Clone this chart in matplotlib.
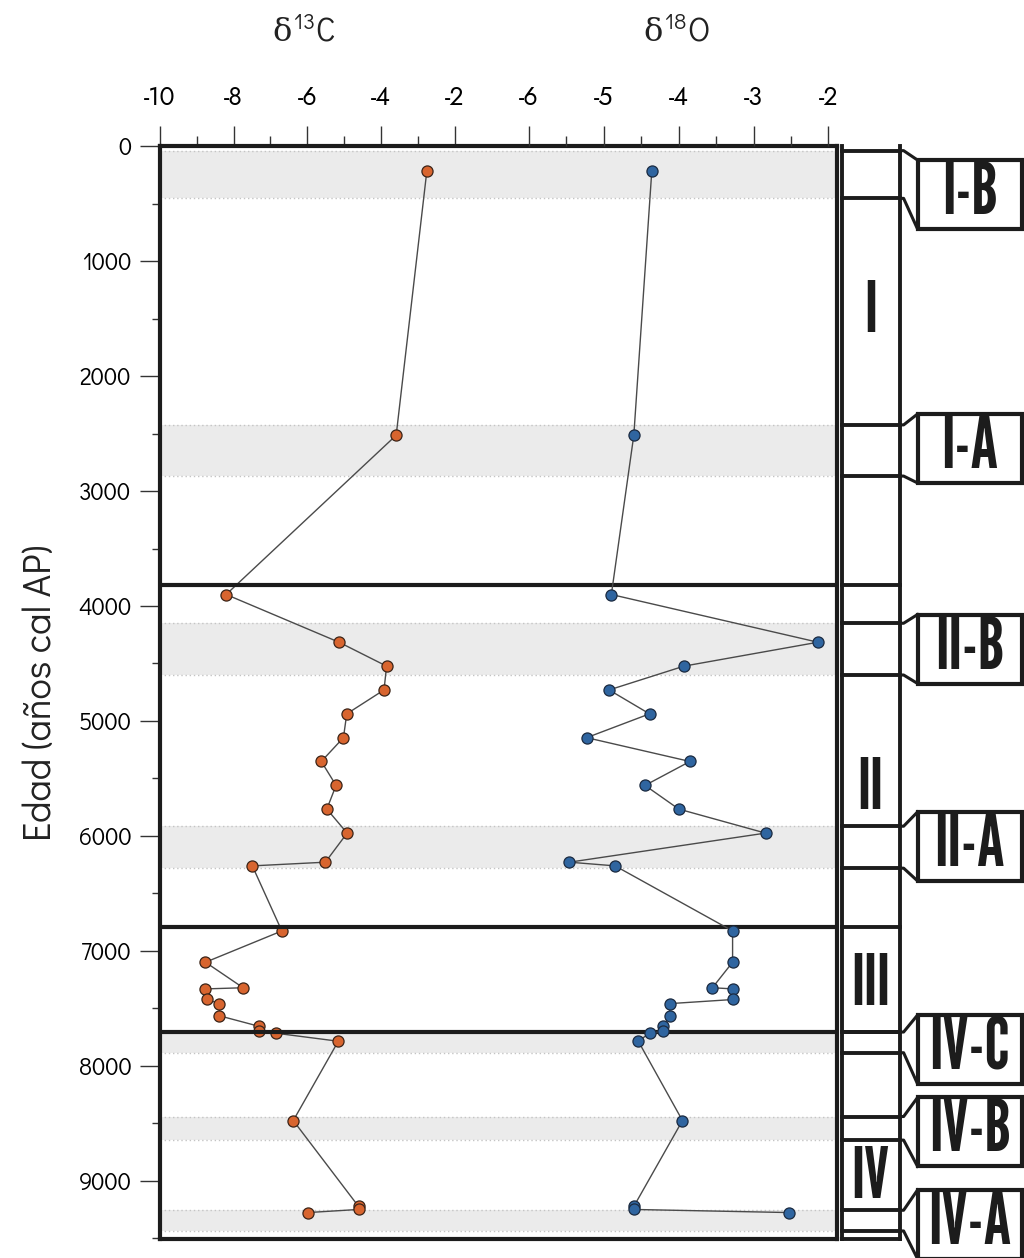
import matplotlib
matplotlib.use("Agg")
import matplotlib.pyplot as plt
import matplotlib.transforms as mtransforms
from matplotlib.patches import Rectangle
from matplotlib.ticker import MultipleLocator

plt.rcParams['axes.unicode_minus'] = False
plt.rcParams['font.family'] = ['Didact Gothic', 'Questrial', 'DejaVu Sans']
plt.rcParams['mathtext.fontset'] = 'custom'
plt.rcParams['mathtext.rm'] = 'Didact Gothic'
plt.rcParams['mathtext.it'] = 'DejaVu Serif'

FUTURA = ['Jost', 'DejaVu Sans']
GOTICA = ['Didact Gothic', 'Questrial', 'DejaVu Sans']
ESTRECHA = ['League Gothic', 'Oswald', 'Antonio', 'Barlow Condensed', 'DejaVu Sans']

# edades (años cal AP) y valores isotópicos
edad = [220, 2515, 3900, 4315, 4523, 4730, 4938, 5145, 5352, 5560, 5766, 5975, 6228, 6260,
        6826, 7098, 7320, 7330, 7422, 7458, 7564, 7656, 7700, 7715, 7785, 8475, 9222, 9248, 9275]
d13c = [-2.76, -3.59, -8.20, -5.14, -3.85, -3.92, -4.93, -5.02, -5.62, -5.22, -5.47, -4.92, -5.51, -7.49,
        -6.69, -8.76, -7.74, -8.76, -8.72, -8.38, -8.38, -7.30, -7.30, -6.86, -5.16, -6.38, -4.61, -4.61, -5.98]
d18o = [-4.36, -4.60, -4.90, -2.14, -3.93, -4.93, -4.39, -5.23, -3.85, -4.45, -4.00, -2.84, -5.46, -4.85,
        -3.28, -3.28, -3.55, -3.27, -3.27, -4.12, -4.12, -4.21, -4.21, -4.39, -4.54, -3.95, -4.60, -4.60, -2.53]

zonas = ["I", "II", "III", "IV"]
zona_lim = [0, 3820, 6790, 7705, 9505]
zona_etq = [1450, 5600, 7300, 8980]

subzonas = ["I-B", "I-A", "II-B", "II-A", "IV-C", "IV-B", "IV-A"]
sub_ini = [40, 2425, 4150, 5915, 7705, 8440, 9255]
sub_fin = [455, 2870, 4600, 6280, 7885, 8645, 9435]
caja_centro = [422, 2630, 4374, 6091, 7857, 8574, 9378]

NEGRO = '#1c1c1c'

fig = plt.figure(figsize=(10.24, 12.58), dpi=100)
ax = fig.add_axes([0.156, 0.0151, 0.661, 0.8688])

ax.set_ylim(zona_lim[-1], 0)
ax.set_xlim(-10, 8.35)

# franjas grises de subzonas
for a, b in zip(sub_ini, sub_fin):
    ax.axhspan(a, b, color='#ebebeb', lw=0, zorder=0)
    for y in (a, b):
        ax.axhline(y, color='#c4c4c4', lw=1.0, ls=(0, (1, 2)), zorder=0.5)

# límites de zonas
for z in zona_lim[1:-1]:
    ax.axhline(z, color=NEGRO, lw=3, zorder=5)

for s in ax.spines.values():
    s.set_linewidth(3)
    s.set_color(NEGRO)
    s.set_zorder(5)

ax.plot(d13c, edad, color='#4a4a4a', lw=1.0, zorder=3)
ax.plot(d13c, edad, 'o', ms=8, mfc='#d8652f', mec='#3b2418', mew=0.9, zorder=4)

ax2 = ax.twiny()
ax2.set_xlim(-10.935, -1.89)
ax2.set_xticks([-6, -5, -4, -3, -2])
ax2.set_xticks([-5.5, -4.5, -3.5, -2.5], minor=True)
for s in ax2.spines.values():
    s.set_visible(False)
ax2.plot(d18o, edad, color='#4a4a4a', lw=1.0, zorder=3)
ax2.plot(d18o, edad, 'o', ms=8, mfc='#2f65a0', mec='#1b2a40', mew=0.9, zorder=4)

# twiny pone las marcas de ax abajo: se vuelven a poner arriba
ax.xaxis.tick_top()
ax.set_xticks([-10, -8, -6, -4, -2])
ax.set_xticks([-9, -7, -5, -3], minor=True)
ax.yaxis.set_major_locator(MultipleLocator(1000))
ax.yaxis.set_minor_locator(MultipleLocator(500))
for a_ in (ax, ax2):
    a_.tick_params(axis='x', which='major', length=14.4, width=1.0, color='#333333',
                   labelsize=18, pad=11)
    a_.tick_params(axis='x', which='minor', length=7.2, width=1.0, color='#333333')
    for lb in a_.get_xticklabels():
        lb.set_family(FUTURA)
ax.tick_params(axis='y', which='major', length=14.4, width=1.0, color='#333333',
               labelsize=17, pad=6)
ax.tick_params(axis='y', which='minor', length=6, width=1.0, color='#333333')
ax.set_ylabel('Edad (años cal AP)', fontsize=27.5, labelpad=14, color='#222222', family=GOTICA)

# títulos de las columnas
ax.text(-6.1, 1.104, r'$\delta^{13}$C', transform=mtransforms.blended_transform_factory(ax.transData, ax.transAxes),
        ha='center', va='center', fontsize=23, color='#222222', family=GOTICA)
ax2.text(-4.03, 1.104, r'$\delta^{18}$O', transform=mtransforms.blended_transform_factory(ax2.transData, ax2.transAxes),
         ha='center', va='center', fontsize=23, color='#222222', family=GOTICA)

# columna de zonas a la derecha
tr = mtransforms.blended_transform_factory(ax.transAxes, ax.transData)
cx0, cx1 = 1.0074, 1.093
bx0, bx1 = 1.1196, 1.2733
lkw = dict(color=NEGRO, lw=2.8, transform=tr, clip_on=False, solid_capstyle='projecting')

ax.plot([cx0, cx0], [0, zona_lim[-1]], **lkw)
ax.plot([cx1, cx1], [0, zona_lim[-1]], **lkw)
for y in zona_lim[1:] + sub_ini + sub_fin:
    ax.plot([cx0, cx1], [y, y], **lkw)

for z, yl in zip(zonas, zona_etq):
    ax.text((cx0 + cx1) / 2, yl, z, transform=tr, ha='center', va='center',
            fontsize=50, color=NEGRO, family=ESTRECHA)

for s, a, b, c in zip(subzonas, sub_ini, sub_fin, caja_centro):
    top, bot = c - 300, c + 300
    ax.plot([cx1, cx1 + 0.006, bx0], [a, a, top], color=NEGRO, lw=2.2, transform=tr, clip_on=False)
    ax.plot([cx1, cx1 + 0.006, bx0], [b, b, bot], color=NEGRO, lw=2.2, transform=tr, clip_on=False)
    ax.add_patch(Rectangle((bx0, top), bx1 - bx0, bot - top, transform=tr, fill=False,
                           ec=NEGRO, lw=3, clip_on=False))
    ax.text((bx0 + bx1) / 2, c, s, transform=tr, ha='center', va='center',
            fontsize=52, color=NEGRO, family=ESTRECHA)

fig.savefig('out.png', dpi=100)
